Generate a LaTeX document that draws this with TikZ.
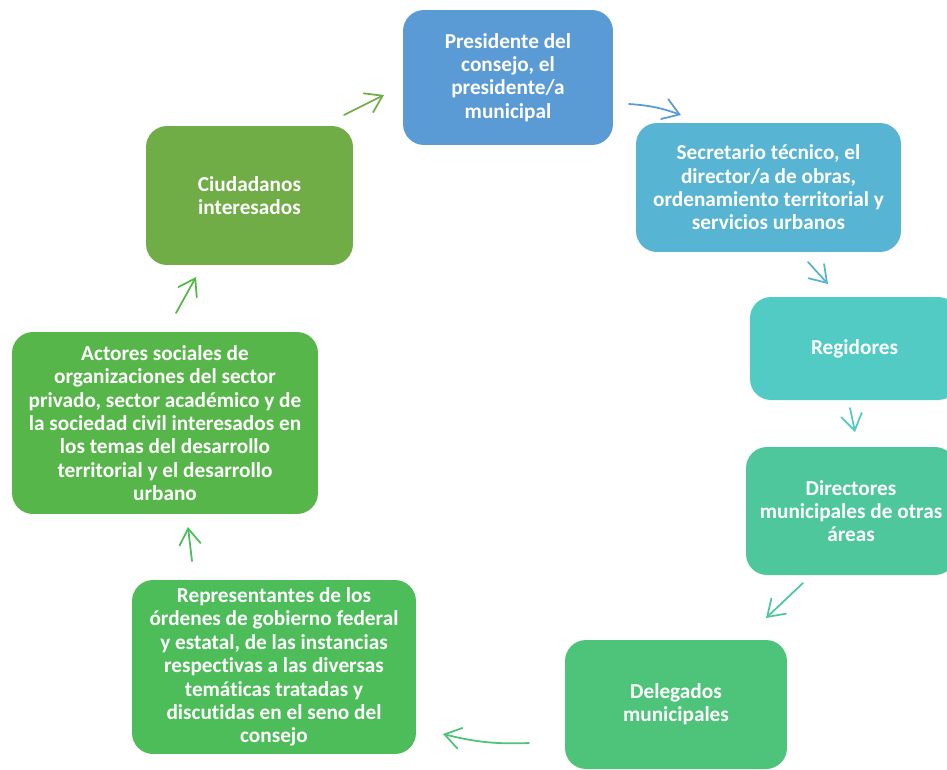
\documentclass[tikz,border=0pt]{standalone}
\usepackage{fontspec}
\setmainfont{Carlito}[Ligatures={NoCommon}]
\usepackage{tikz}
\usetikzlibrary{arrows.meta}

\definecolor{cpres}{HTML}{5B9BD5}
\definecolor{csecr}{HTML}{57B4D2}
\definecolor{cregi}{HTML}{52CBC5}
\definecolor{cdire}{HTML}{4FC79D}
\definecolor{cdele}{HTML}{4DC47A}
\definecolor{crepr}{HTML}{4CBD59}
\definecolor{cacto}{HTML}{56B649}
\definecolor{cciud}{HTML}{70AD47}

\begin{document}
\begin{tikzpicture}[x=0.02cm, y=-0.02cm,
	box/.style={rectangle, rounded corners=0.42cm, inner sep=0pt, text=white, align=center,
		font=\fontsize{12.1}{13.3}\selectfont\bfseries},
	flow/.style={line width=1pt, line cap=round, -{Straight Barb[length=9pt, width=12pt, line cap=round]}}]
	\useasboundingbox (0,0) rectangle (947,769);
	\clip (0,0) rectangle (947,769);
	% boxes
	\node[box, fill=cpres, minimum width=4.2cm, minimum height=2.7cm] (pres) at (508,77.5) {Presidente del\\consejo, el\\presidente/a\\municipal};
	\node[box, fill=csecr, minimum width=5.3cm, minimum height=2.58cm] (secr) at (768.5,187.5) {Secretario técnico, el\\director/a de obras,\\ordenamiento territorial y\\servicios urbanos};
	\node[box, fill=cregi, minimum width=4.18cm, minimum height=2.06cm] (regi) at (854.5,348.5) {Regidores};
	\node[box, fill=cdire, minimum width=4.2cm, minimum height=2.56cm] (dire) at (851,511) {Directores\\municipales de otras\\áreas};
	\node[box, fill=cdele, minimum width=4.44cm, minimum height=2.58cm] (dele) at (676,704.5) {Delegados\\municipales};
	\node[box, fill=crepr, minimum width=5.68cm, minimum height=3.48cm] (repr) at (274,667) {Representantes de los\\órdenes de gobierno federal\\y estatal, de las instancias\\respectivas a las diversas\\temáticas tratadas y\\discutidas en el seno del\\consejo};
	\node[box, fill=cacto, minimum width=6.12cm, minimum height=3.64cm] (acto) at (165,423) {Actores sociales de\\organizaciones del sector\\privado, sector académico y de\\la sociedad civil interesados en\\los temas del desarrollo\\territorial y el desarrollo\\urbano};
	\node[box, fill=cciud, minimum width=4.14cm, minimum height=2.78cm] (ciud) at (249.5,195.5) {Ciudadanos\\interesados};
	% arrow ends
	\coordinate (a1) at (344,115);  \coordinate (b1) at (384,95);
	\coordinate (a2) at (629,104);  \coordinate (b2) at (681,115);
	\coordinate (a3) at (808,262);  \coordinate (b3) at (828,284);
	\coordinate (a4) at (850,408);  \coordinate (b4) at (855,432);
	\coordinate (a5) at (803,583);  \coordinate (b5) at (766,618);
	\coordinate (a6) at (529,743);  \coordinate (b6) at (443,734);
	\coordinate (a7) at (192,561);  \coordinate (b7) at (188,527);
	\coordinate (a8) at (176,313);  \coordinate (b8) at (196,277);
	% arrows
	\draw[flow, cciud] (a1) -- (b1);
	\draw[flow, cpres] (a2) to[bend left=8] (b2);
	\draw[flow, csecr] (a3) -- (b3);
	\draw[flow, cregi] (a4) -- (b4);
	\draw[flow, cdire] (a5) -- (b5);
	\draw[flow, cdele] (a6) to[bend left=8] (b6);
	\draw[flow, crepr] (a7) -- (b7);
	\draw[flow, cacto] (a8) -- (b8);
\end{tikzpicture}
\end{document}
